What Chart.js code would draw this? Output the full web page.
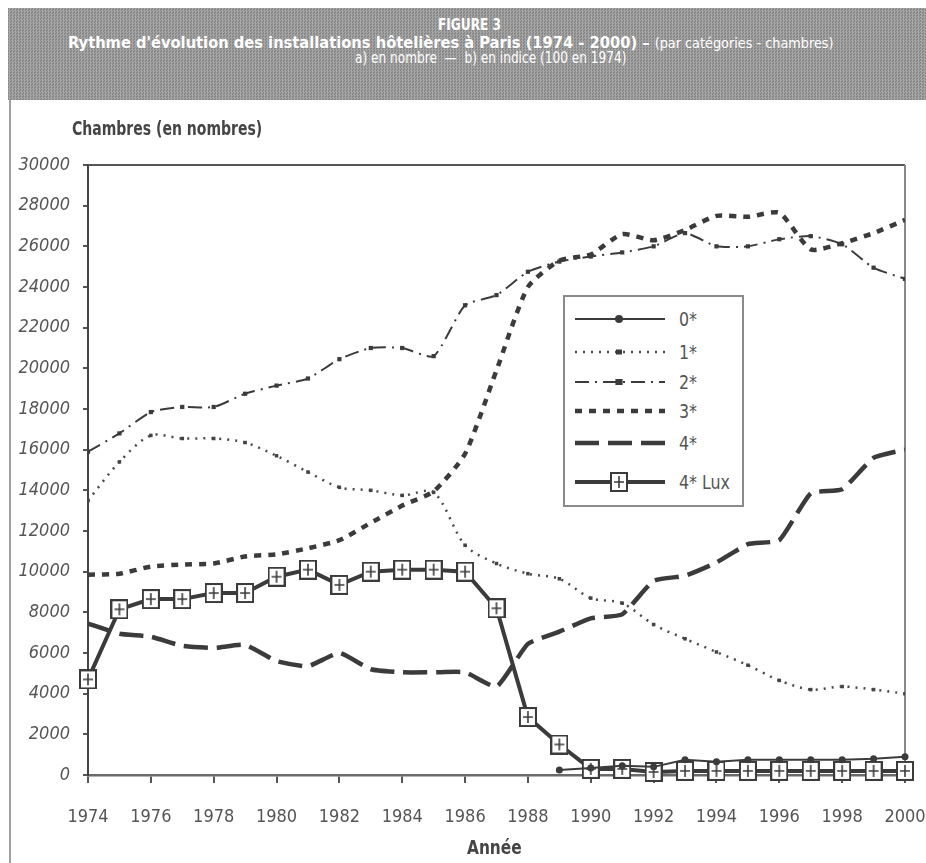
<!DOCTYPE html>
<html lang="fr">
<head>
<meta charset="utf-8">
<title>Figure 3 - Rythme d'évolution des installations hôtelières à Paris</title>
<script src="https://cdn.jsdelivr.net/npm/chart.js@4.4.0/dist/chart.umd.min.js"></script>
<style>
  html, body { margin: 0; padding: 0; background: #fff; }
  body { width: 926px; height: 863px; position: relative; overflow: hidden;
         font-family: 'DejaVu Sans Condensed', 'Liberation Sans', sans-serif; }
  #banner { position: absolute; left: 8px; top: 8px; width: 918px; height: 92px;
            background-color: #959595;
            background-image: repeating-conic-gradient(#a6a6a6 0% 25%, #878787 0% 50%);
            background-size: 3px 3px; color: #fff; }
  #banner div { position: absolute; white-space: nowrap; transform-origin: left top; }
  #fig { left: 430px; top: 8px; font-weight: bold; font-size: 15px; transform: scaleX(0.9); }
  #line2 { left: 60px; top: 25px; font-weight: bold; font-size: 16px; transform: scaleX(1.02); }
  #line2 span { font-weight: normal; font-size: 14px; }
  #line3 { left: 347px; top: 41px; font-size: 15px; transform: scaleX(0.9); }
  #frame { position: absolute; left: 9px; top: 100px; width: 0; height: 763px; border-left: 2px solid #a0a0a0; }
  #chartBox { position: absolute; left: 0; top: 100px; width: 926px; height: 763px; }
  #ytitle { position: absolute; left: 72px; top: 117px; font-weight: bold; font-size: 19px; color: #454545;
            white-space: nowrap; transform-origin: left top; transform: scaleX(0.82); }
  #xtitle { position: absolute; left: 467px; top: 836px; font-weight: bold; font-size: 19px; color: #454545;
            white-space: nowrap; transform-origin: left top; transform: scaleX(0.9); }
  #legend { position: absolute; left: 563px; top: 295px; width: 177px; height: 208px;
            border: 2px solid #8a8a8a; background: #fff; }
  #legend .row { position: absolute; left: 8px; height: 24px; }
  #legend canvas { position: absolute; left: 0; top: 0; }
  #legend span { position: absolute; left: 106px; top: 0; line-height: 24px; font-size: 20px; color: #555;
                 white-space: nowrap; transform-origin: left center; transform: scaleX(0.88); }
</style>
</head>
<body>
<div id="banner">
  <div id="fig">FIGURE 3</div>
  <div id="line2">Rythme d'évolution des installations hôtelières à Paris (1974 - 2000) – <span>(par catégories - chambres)</span></div>
  <div id="line3">a) en nombre &nbsp;— &nbsp;b) en indice (100 en 1974)</div>
</div>
<div id="frame"></div>
<div id="chartBox"><canvas id="chart" width="926" height="763"></canvas></div>
<div id="ytitle">Chambres (en nombres)</div>
<div id="xtitle">Année</div>
<div id="legend"></div>
<script>
// --- Données ---
const years = [1974, 1975, 1976, 1977, 1978, 1979, 1980, 1981, 1982, 1983, 1984, 1985, 1986, 1987,
               1988, 1989, 1990, 1991, 1992, 1993, 1994, 1995, 1996, 1997, 1998, 1999, 2000];
const labels = ['0*', '1*', '2*', '3*', '4*', '4* Lux'];
const zeroStar = [null, null, null, null, null, null, null, null, null, null, null, null, null, null,
                  null, 250, 350, 450, 400, 750, 650, 750, 750, 750, 750, 800, 900];
const oneStar = [13500, 15400, 16700, 16550, 16550, 16350, 15700, 14900, 14150, 14000, 13750, 13900, 11300, 10400,
                 9900, 9650, 8700, 8450, 7400, 6700, 6050, 5400, 4650, 4200, 4350, 4200, 4000];
const twoStar = [15900, 16800, 17850, 18100, 18100, 18750, 19150, 19500, 20450, 21000, 21000, 20600, 23100, 23600,
                 24750, 25250, 25500, 25700, 26000, 26650, 26000, 26000, 26350, 26500, 26100, 24950, 24400];
const threeStar = [9850, 9900, 10250, 10350, 10400, 10750, 10850, 11150, 11550, 12400, 13250, 13950, 15800, 19900,
                   24000, 25300, 25600, 26600, 26300, 26800, 27500, 27450, 27650, 25850, 26150, 26650, 27300];
const fourStar = [7450, 6950, 6800, 6350, 6250, 6400, 5600, 5350, 6000, 5200, 5050, 5050, 5050, 4350,
                  6450, 7050, 7700, 7900, 9550, 9800, 10450, 11350, 11550, 13850, 14050, 15600, 16000];
const fourLux = [4700, 8150, 8650, 8650, 8950, 8950, 9750, 10100, 9350, 10000, 10100, 10100, 10000, 8200,
                 2850, 1500, 300, 300, 150, 200, 200, 200, 200, 200, 200, 200, 200];

const ink = '#3b3b3b';
const fontFamily = "'DejaVu Sans Condensed', 'Liberation Sans', sans-serif";

function toPoints(values) {
    return years.map((x, i) => ({ x: x, y: values[i] }));
}

// marqueur carré avec une croix pour 4* Lux
function luxMarker() {
    const c = document.createElement('canvas');
    c.width = 18; c.height = 20;
    const g = c.getContext('2d');
    g.fillStyle = '#fff';
    g.fillRect(1, 1, 16, 18);
    g.strokeStyle = ink;
    g.lineWidth = 2;
    g.strokeRect(1, 1, 16, 18);
    g.lineWidth = 1.6;
    g.beginPath();
    g.moveTo(9, 4); g.lineTo(9, 16);
    g.moveTo(4, 10); g.lineTo(14, 10);
    g.stroke();
    return c;
}
const luxPoint = luxMarker();

const datasets = [
    { label: labels[0], data: toPoints(zeroStar), borderColor: ink, backgroundColor: ink, borderWidth: 2,
      pointStyle: 'circle', pointRadius: 3.5, pointBackgroundColor: ink, pointBorderWidth: 0, tension: 0, clip: false },
    { label: labels[1], data: toPoints(oneStar), borderColor: '#4a4a4a', borderWidth: 2.5, borderDash: [2, 6],
      pointStyle: 'rect', pointRadius: 2.5, pointBackgroundColor: '#444', pointBorderWidth: 0, tension: 0.3 },
    { label: labels[2], data: toPoints(twoStar), borderColor: ink, borderWidth: 2, borderDash: [14, 6, 2, 6],
      pointStyle: 'rect', pointRadius: 3, pointBackgroundColor: ink, pointBorderWidth: 0, tension: 0.2 },
    { label: labels[3], data: toPoints(threeStar), borderColor: ink, borderWidth: 4.5, borderDash: [7, 7],
      pointRadius: 0, tension: 0.2 },
    { label: labels[4], data: toPoints(fourStar), borderColor: ink, borderWidth: 4.5, borderDash: [24, 9],
      pointRadius: 0, tension: 0.15 },
    { label: labels[5], data: toPoints(fourLux), borderColor: ink, borderWidth: 4,
      pointStyle: luxPoint, pointRadius: 9, tension: 0, clip: false }
];

// cadre haut + droite de la zone de tracé
const plotFrame = {
    id: 'plotFrame',
    beforeDatasetsDraw(chart) {
        const { ctx, chartArea: a } = chart;
        ctx.save();
        ctx.lineWidth = 2;
        ctx.strokeStyle = '#555';
        ctx.beginPath();
        ctx.moveTo(a.left, a.top);
        ctx.lineTo(a.right, a.top);
        ctx.stroke();
        ctx.strokeStyle = '#888';
        ctx.beginPath();
        ctx.moveTo(a.right, a.top);
        ctx.lineTo(a.right, a.bottom);
        ctx.stroke();
        ctx.restore();
    }
};

const chart = new Chart(document.getElementById('chart'), {
    type: 'line',
    data: { datasets: datasets },
    options: {
        responsive: false,
        animation: false,
        layout: { padding: { left: 0, right: 0, top: 65, bottom: 0 } },
        plugins: { legend: { display: false }, tooltip: { enabled: false } },
        scales: {
            x: {
                type: 'linear', min: 1974, max: 2000,
                ticks: { stepSize: 2, autoSkip: false, maxRotation: 0, padding: 24, color: '#555',
                         font: { family: fontFamily, size: 18 }, callback: v => String(v) },
                grid: { drawOnChartArea: false, color: '#555', tickLength: 8, lineWidth: 2 },
                border: { color: '#6a6a6a', width: 2.5 },
                afterFit: s => { s.height = 88; s.paddingRight = 21; s.paddingLeft = 0; }
            },
            y: {
                min: 0, max: 30000,
                ticks: { stepSize: 2000, padding: 13, color: '#555',
                         font: { family: fontFamily, size: 18, style: 'italic' }, callback: v => String(v) },
                grid: { drawOnChartArea: false, color: '#555', tickLength: 5, lineWidth: 2 },
                border: { color: '#444', width: 2 },
                afterFit: s => { s.width = 88; }
            }
        }
    },
    plugins: [plotFrame]
});

// --- Légende HTML construite à partir des séries ---
const legendBox = document.getElementById('legend');
const rowTops = [10, 43, 73, 102, 134, 173];
chart.data.datasets.forEach((ds, i) => {
    const row = document.createElement('div');
    row.className = 'row';
    row.style.top = rowTops[i] + 'px';
    const c = document.createElement('canvas');
    c.width = 92; c.height = 24;
    const g = c.getContext('2d');
    g.strokeStyle = ds.borderColor;
    g.lineWidth = ds.borderWidth;
    g.setLineDash(ds.borderDash || []);
    g.beginPath();
    g.moveTo(2, 12); g.lineTo(92, 12);
    g.stroke();
    g.setLineDash([]);
    if (ds.pointStyle === 'circle') {
        g.fillStyle = ink;
        g.beginPath(); g.arc(46, 12, 4, 0, Math.PI * 2); g.fill();
    } else if (ds.pointStyle === 'rect') {
        g.fillStyle = ink;
        g.fillRect(46 - ds.pointRadius * 1.2, 12 - ds.pointRadius, ds.pointRadius * 2.4, ds.pointRadius * 2);
    } else if (ds.pointStyle instanceof HTMLCanvasElement) {
        g.drawImage(ds.pointStyle, 46 - 9, 2);
    }
    row.appendChild(c);
    const t = document.createElement('span');
    t.textContent = ds.label;
    row.appendChild(t);
    legendBox.appendChild(row);
});
</script>
</body>
</html>
